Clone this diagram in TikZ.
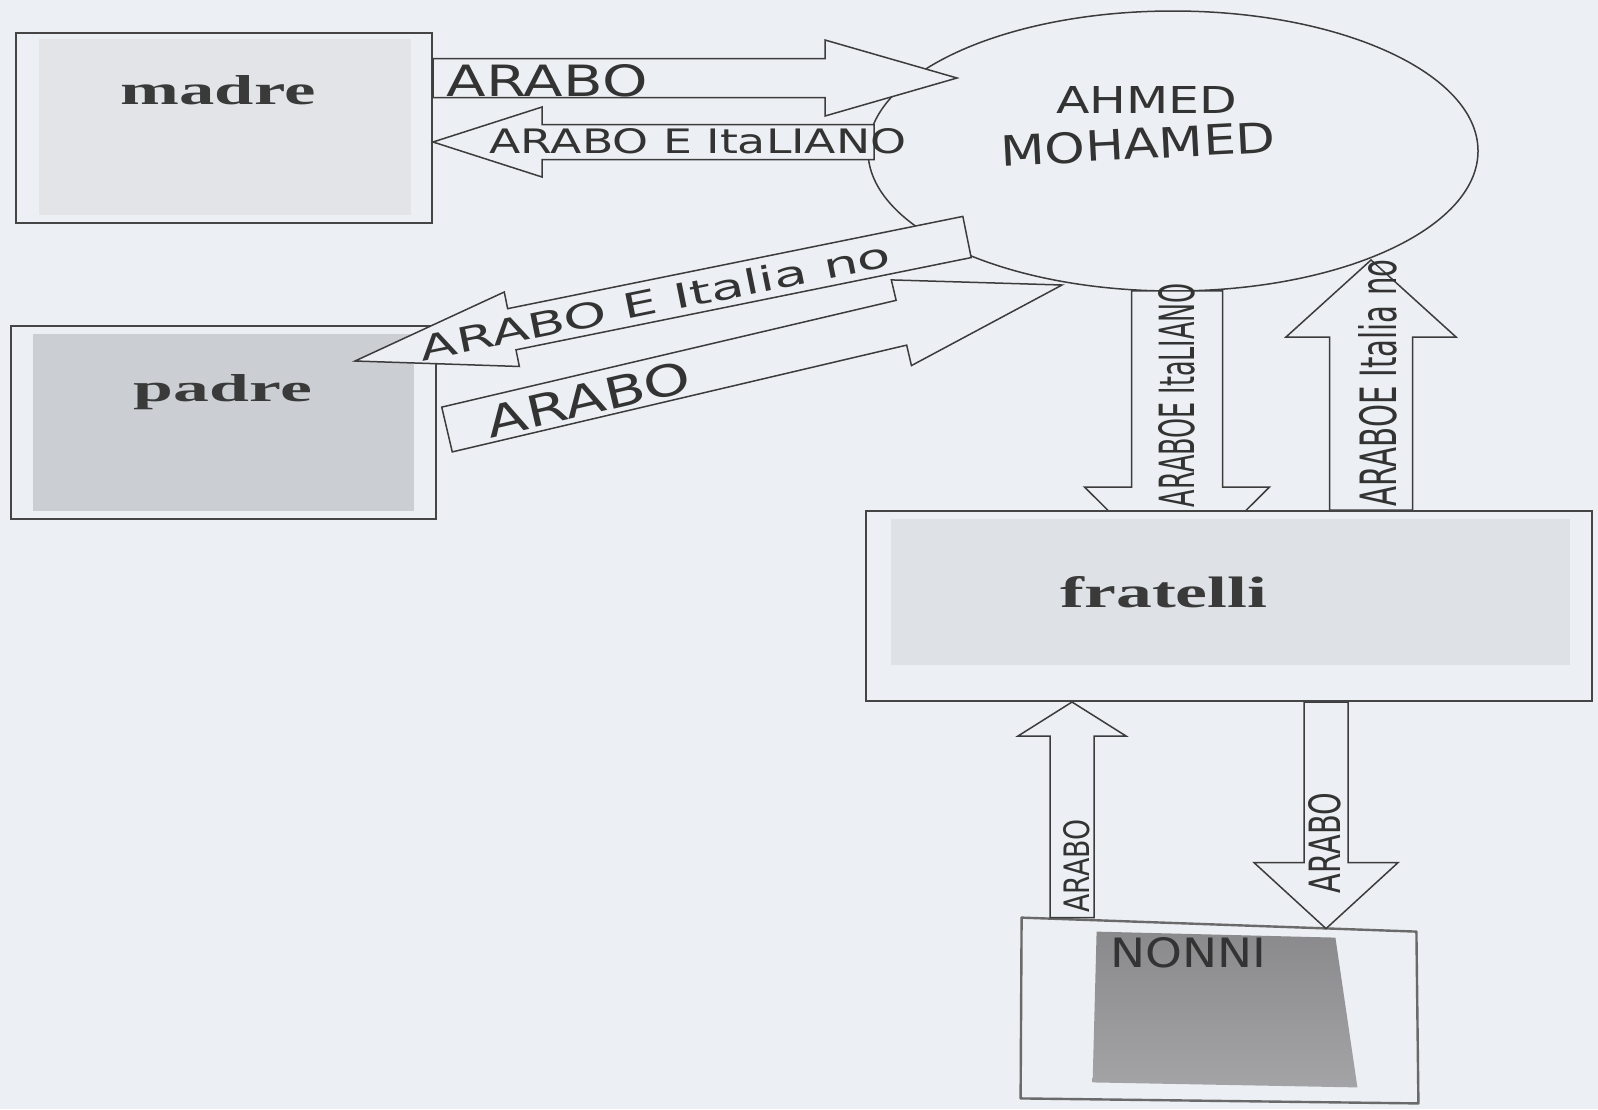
\documentclass[tikz,border=0pt]{standalone}
\usepackage{fontspec}
\setmainfont{Liberation Serif}
\newfontfamily\hand{DejaVu Sans}
\usetikzlibrary{calc,shapes.geometric}
\pgfdeclarelayer{bglayer}
\pgfdeclarelayer{fglayer}
\pgfsetlayers{bglayer,main,fglayer}
\definecolor{bgcol}{HTML}{ECEFF3}
\definecolor{boxcol}{HTML}{454545}
\definecolor{arrcol}{HTML}{3C3C3C}
\definecolor{madrefill}{HTML}{E2E4E8}
\definecolor{padrefill}{HTML}{CBCED3}
\definecolor{fratfill}{HTML}{DEE1E5}
\definecolor{txtcol}{HTML}{3A3A3A}
\definecolor{hwcol}{HTML}{333333}
\definecolor{pencil}{HTML}{6A6A6A}
\definecolor{nonnitop}{HTML}{8A8A8C}
\definecolor{nonnibot}{HTML}{A4A4A6}
% #1 tail, #2 tip, #3 half shaft width, #4 half head width, #5 head length
\newcommand{\blockarr}[5]{%
  \path ($(#2)!#5!(#1)$) coordinate (bah);
  \draw[blk] ($(#1)!#3!90:(#2)$) -- ($(bah)!#3!-90:(#1)$) -- ($(bah)!#4!-90:(#1)$)
    -- (#2) -- ($(bah)!#4!90:(#1)$) -- ($(bah)!#3!90:(#1)$) -- ($(#1)!#3!-90:(#2)$) -- cycle;
}
\begin{document}
\begin{tikzpicture}[x=0.5pt,y=-0.5pt,
  box/.style={draw=boxcol,line width=1pt,inner sep=0,rectangle},
  blk/.style={draw=arrcol,fill=bgcol,line width=0.75pt,line join=miter},
  boldlbl/.style={inner sep=0,text=txtcol,font=\bfseries,anchor=base},
  hw/.style={inner sep=0,text=hwcol,font=\hand}]
\useasboundingbox (0,0) rectangle (1598,1109);

\begin{pgfonlayer}{bglayer}
\fill[bgcol] (0,0) rectangle (1598,1109);
% madre
\node[box,minimum width=208pt,minimum height=95pt] (madre) at (224,128) {};
\fill[madrefill] ($(madre.north west)+(24,7)$) rectangle ($(madre.south east)+(-22,-9)$);
\node[boldlbl] (madretxt) at (218,104) {\resizebox{97.5pt}{14.5pt}{madre}};
% padre
\node[box,minimum width=212.5pt,minimum height=96.5pt] (padre) at (223.5,422.5) {};
\fill[padrefill] ($(padre.north west)+(23,9)$) rectangle ($(padre.south east)+(-23,-9)$);
\node[boldlbl] (padretxt) at (223,401) {\resizebox{89pt}{13.5pt}{padre}};
% Ahmed
\node[ellipse,draw=arrcol,fill=bgcol,line width=0.75pt,minimum width=305pt,minimum height=140pt,inner sep=0] (ahmed) at (1173,151) {};
\end{pgfonlayer}

\begin{pgfonlayer}{fglayer}
\node[box,fill=bgcol,minimum width=363pt,minimum height=95pt] (fratelli) at (1229,606) {};
\fill[fratfill] ($(fratelli.north west)+(26,9)$) rectangle ($(fratelli.south east)+(-23,-37)$);
\node[boldlbl] (frattxt) at (1164,607) {\resizebox{103.5pt}{15.5pt}{fratelli}};
\end{pgfonlayer}

% nonni (hand drawn)
\node[inner sep=0,minimum width=197pt,minimum height=91.5pt] (nonni) at (1219,1009.5) {};
\fill[bgcol] (nonni.north west) -- ($(nonni.north east)+(0,14)$) -- ($(nonni.south east)+(2,2)$) -- ($(nonni.south west)+(-1,-3)$) -- cycle;
\shade[top color=nonnitop,bottom color=nonnibot] ($(nonni.north west)+(75,14)$) -- ($(nonni.north east)+(-81,20)$) -- ($(nonni.south east)+(-59,-14)$) -- ($(nonni.south west)+(71,-19)$) -- cycle;
\draw[pencil,line width=1.2pt,line join=round] (nonni.north west) -- ($(nonni.north east)+(0,14)$) -- ($(nonni.south east)+(2,2)$) -- ($(nonni.south west)+(-1,-3)$) -- cycle;
\node[hw] (nonnitxt) at (1188,953) {\resizebox{78pt}{15pt}{NONNI}};

% arrow end points
\coordinate (a1t) at ($(madre.east)+(0,-50)$);
\coordinate (a1h) at ($(ahmed.center)+(-216,-73)$);
\coordinate (a2t) at ($(ahmed.center)+(-299,-9)$);
\coordinate (a2h) at ($(madre.east)+(0,14)$);
\coordinate (a3t) at ($(ahmed.center)+(-206,86)$);
\coordinate (a3h) at ($(padre.north east)+(-82,36)$);
\coordinate (a4t) at ($(padre.east)+(10,7)$);
\coordinate (a4h) at ($(ahmed.center)+(-111,134)$);
\coordinate (a5t) at ($(ahmed.south)+(4,-1)$);
\coordinate (a5h) at ($(fratelli.north)+(-52,69)$);
\coordinate (a6t) at ($(fratelli.north)+(142,0)$);
\coordinate (a6h) at ($(ahmed.center)+(198,109)$);
\coordinate (a7t) at ($(nonni.north)+(-147,0)$);
\coordinate (a7h) at ($(fratelli.south)+(-157,0)$);
\coordinate (a8t) at ($(fratelli.south)+(97,0)$);
\coordinate (a8h) at ($(nonni.north)+(107,11)$);

\blockarr{a1t}{a1h}{9.75pt}{19pt}{66pt}
\blockarr{a2t}{a2h}{8.75pt}{17.5pt}{54.5pt}
\blockarr{a3t}{a3h}{10.5pt}{19pt}{80pt}
\blockarr{a4t}{a4h}{11.5pt}{22pt}{82.5pt}
\blockarr{a5t}{a5h}{22.75pt}{46.25pt}{46pt}
\blockarr{a6t}{a6h}{20.75pt}{42.5pt}{38.5pt}
\blockarr{a7t}{a7h}{11pt}{27pt}{17pt}
\blockarr{a8t}{a8h}{11pt}{36pt}{33pt}

% labels
\node[hw] (l1) at (547,81) {\resizebox{100.5pt}{16pt}{ARABO}};
\node[hw] (l2) at (698,141) {\resizebox{208.5pt}{12.5pt}{ARABO E ItaLIANO}};
\node[hw,rotate=11.5] (l3) at (655,301) {\resizebox{240pt}{13pt}{ARABO E Italia no}};
\node[hw,rotate=13.2] (l4) at (588,399) {\resizebox{104pt}{16pt}{ARABO}};
\node[hw,rotate=90] (l5) at (1177,395) {\resizebox{112pt}{18pt}{ARABOE ItaLIANO}};
\node[hw,rotate=90] (l6) at (1378,383) {\resizebox{123.5pt}{19pt}{ARABOE Italia no}};
\node[hw,rotate=90] (l7) at (1077,866) {\resizebox{46.5pt}{13pt}{ARABO}};
\node[hw,rotate=90] (l8) at (1325,843) {\resizebox{50pt}{16pt}{ARABO}};
\node[hw] (ahmedtxt) at (1147,100) {\resizebox{90.5pt}{13.5pt}{AHMED}};
\node[hw,rotate=3] (mohamedtxt) at (1138,144) {\resizebox{137.5pt}{15.5pt}{MOHAMED}};
\end{tikzpicture}
\end{document}
